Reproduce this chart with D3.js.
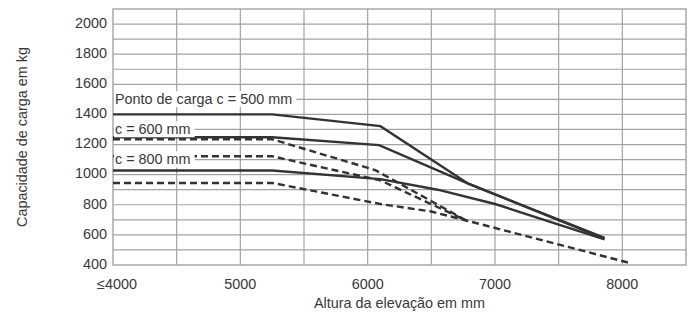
<!DOCTYPE html>
<html>
<head>
<meta charset="utf-8">
<script src="https://cdn.jsdelivr.net/npm/d3@7/dist/d3.min.js"></script>
<style>
  body { margin: 0; background: #fff; }
  svg text { font-family: "Liberation Sans", Arial, sans-serif; fill: #383838; }
</style>
</head>
<body>
<svg id="chart" width="692" height="316"></svg>
<script>
// tick labels
const xTicks = [4000, 5000, 6000, 7000, 8000]
const xTickLabels = ["≤4000", "5000", "6000", "7000", "8000"]
const yTicks = [400, 600, 800, 1000, 1200, 1400, 1600, 1800, 2000]

// curves: [altura, capacidade]
const solid500 = [[4000,1400],[5250,1400],[6100,1322],[6790,940],[7860,580]]
const solid600 = [[4000,1248],[5250,1248],[6090,1196],[6790,940],[7860,575]]
const solid800 = [[4000,1028],[5250,1028],[6100,970],[6550,900],[7000,805],[7860,570]]
const dash500 = [[4000,1235],[5250,1235],[6060,1030],[6780,693]]
const dash600 = [[4000,1122],[5250,1122],[6100,962],[6780,693]]
const dash800 = [[4000,945],[5250,945],[6100,805],[6500,755],[6800,690],[8050,415]]

const labels = [
  {text: "Ponto de carga c = 500 mm", at: 1500},
  {text: "c = 600 mm", at: 1300},
  {text: "c = 800 mm", at: 1100}
]

const svg = d3.select("#chart")
const pLeft = 113, pRight = 686, pTop = 9, pBottom = 265
const fs = 14.4

const x = d3.scaleLinear().domain([4000, 8500]).range([pLeft, pRight])
const y = d3.scaleLinear().domain([400, 2100]).range([pBottom, pTop])

// grid
const grid = svg.append("g").attr("stroke", "#a3a3a3").attr("stroke-width", 1.2)
grid.selectAll("line.v")
  .data(d3.range(4500, 8500, 500))
  .join("line")
  .attr("class", "v")
  .attr("x1", d => x(d)).attr("x2", d => x(d))
  .attr("y1", pTop).attr("y2", pBottom)
grid.selectAll("line.h")
  .data(d3.range(500, 2100, 100))
  .join("line")
  .attr("class", "h")
  .attr("x1", pLeft).attr("x2", pRight)
  .attr("y1", d => y(d)).attr("y2", d => y(d))
svg.append("rect")
  .attr("x", pLeft).attr("y", pTop)
  .attr("width", pRight - pLeft).attr("height", pBottom - pTop)
  .attr("fill", "none").attr("stroke", "#a3a3a3").attr("stroke-width", 1.4)

// curves
const line = d3.line().x(d => x(d[0])).y(d => y(d[1]))
const series = [
  {pts: solid500, dash: null},
  {pts: solid600, dash: null},
  {pts: solid800, dash: null},
  {pts: dash500, dash: "7,4"},
  {pts: dash600, dash: "7,4"},
  {pts: dash800, dash: "7,4"}
]
svg.append("g").selectAll("path")
  .data(series)
  .join("path")
  .attr("d", d => line(d.pts))
  .attr("fill", "none")
  .attr("stroke", "#333")
  .attr("stroke-width", 2.4)
  .attr("stroke-dasharray", d => d.dash)

// labels with white box
const lab = svg.append("g").selectAll("g")
  .data(labels)
  .join("g")
lab.append("rect").attr("fill", "#fff")
lab.append("text")
  .attr("x", pLeft + 2)
  .attr("y", d => y(d.at) + 1)
  .attr("dominant-baseline", "middle")
  .attr("font-size", fs)
  .text(d => d.text)
lab.each(function() {
  const g = d3.select(this)
  const b = g.select("text").node().getBBox()
  g.select("rect")
    .attr("x", pLeft + 1).attr("y", b.y)
    .attr("width", b.width + 5).attr("height", b.height)
})

// y axis labels
svg.append("g").selectAll("text")
  .data(yTicks)
  .join("text")
  .attr("x", 107)
  .attr("y", d => y(d))
  .attr("text-anchor", "end")
  .attr("dominant-baseline", "middle")
  .attr("font-size", fs)
  .text(d => d)

// x axis labels
svg.append("g").selectAll("text")
  .data(xTicks)
  .join("text")
  .attr("x", (d, i) => x(d) + (i === 0 ? 4 : 0))
  .attr("y", 289)
  .attr("text-anchor", "middle")
  .attr("font-size", fs)
  .text((d, i) => xTickLabels[i])

svg.append("text")
  .attr("x", (pLeft + pRight) / 2)
  .attr("y", 308)
  .attr("text-anchor", "middle")
  .attr("font-size", fs)
  .text("Altura da elevação em mm")

svg.append("text")
  .attr("transform", "translate(27," + ((pTop + pBottom) / 2) + ") rotate(-90)")
  .attr("text-anchor", "middle")
  .attr("font-size", fs)
  .text("Capacidade de carga em kg")
</script>
</body>
</html>
